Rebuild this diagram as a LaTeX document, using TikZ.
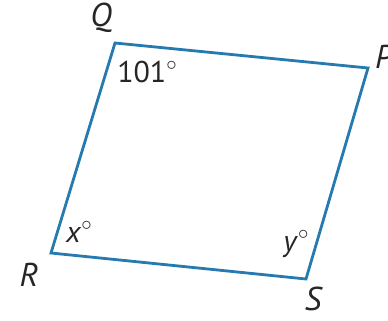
\documentclass[tikz,border=0pt]{standalone}
\usepackage{fontspec}
\setmainfont{PT Sans}
\definecolor{edgeblue}{RGB}{38,122,176}
\newcommand{\degmark}{\raisebox{0.42em}{\fontsize{20}{20}\selectfont$\circ$}}
\begin{document}
\begin{tikzpicture}[x=1pt,y=-1pt,
  lab/.style={font=\fontsize{33}{33}\selectfont\itshape, inner sep=0pt, text=black!85},
  ang/.style={font=\fontsize{30}{30}\selectfont, inner sep=0pt, text=black!85},
  side/.style={draw=edgeblue, line width=2.8pt, line join=miter}]
\useasboundingbox (0,0) rectangle (388,321);
\coordinate (Q) at (115,43);
\coordinate (P) at (368,68);
\coordinate (S) at (306,279);
\coordinate (R) at (51,253);
\draw[side] (Q) -- (P) -- (S) -- (R) -- cycle;
\node[lab] (lQ) at (101,18) {Q};
\node[lab, anchor=west] (lP) at (375,57) {P};
\node[lab] (lR) at (29,275) {R};
\node[lab] (lS) at (313,299) {S};
\node[ang] (a101) at (147,72) {101\degmark};
\node[ang] (ax) at (79,232) {\textit{x}\degmark};
\node[ang] (ay) at (296,244) {\textit{y}\degmark};
\end{tikzpicture}
\end{document}
